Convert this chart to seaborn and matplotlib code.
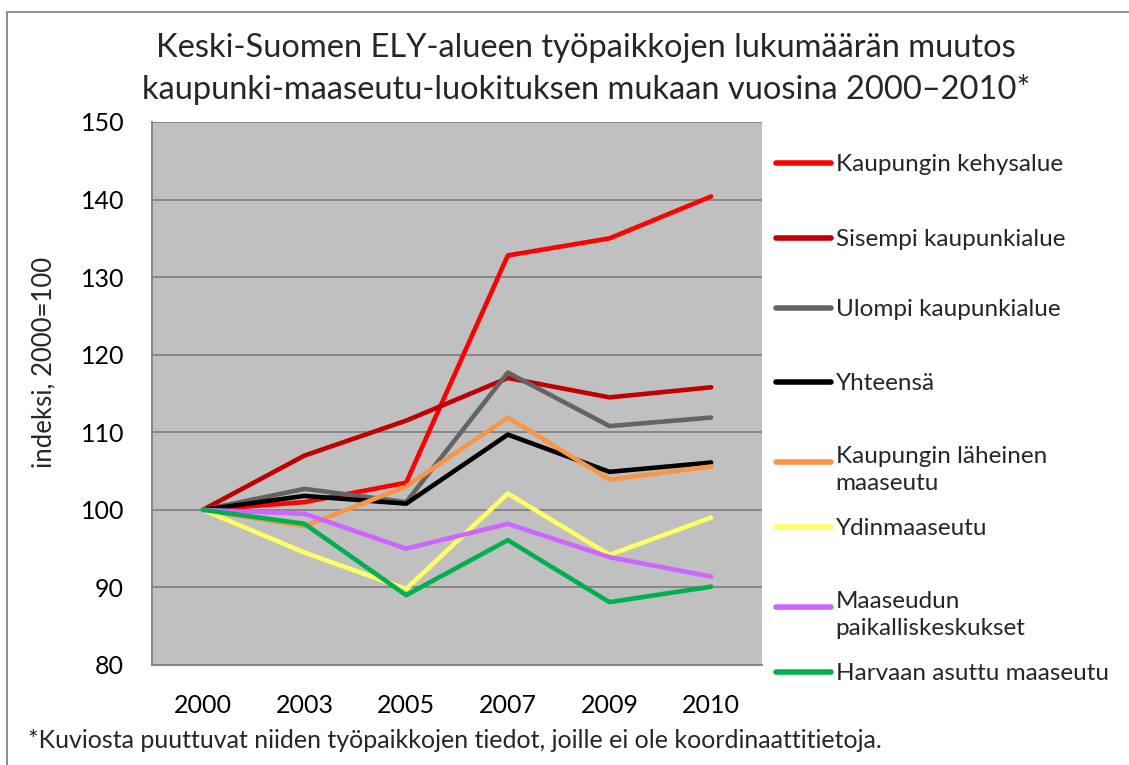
import matplotlib
matplotlib.use("Agg")
import matplotlib.pyplot as plt
import seaborn as sns
import pandas as pd
from matplotlib.legend_handler import HandlerLine2D
from matplotlib.patches import Rectangle

years = ["2000", "2003", "2005", "2007", "2009", "2010"]
series_names = [
    "Kaupungin kehysalue",
    "Sisempi kaupunkialue",
    "Ulompi kaupunkialue",
    "Yhteensä",
    "Kaupungin läheinen\nmaaseutu",
    "Ydinmaaseutu",
    "Maaseudun\npaikalliskeskukset",
    "Harvaan asuttu maaseutu",
]
kehysalue = [100, 101.0, 103.5, 132.8, 135.0, 140.4]
sisempi = [100, 107.0, 111.5, 117.0, 114.5, 115.8]
ulompi = [100, 102.7, 101.0, 117.7, 110.8, 111.9]
yhteensa = [100, 101.8, 100.8, 109.7, 104.9, 106.1]
laheinen = [100, 97.9, 103.0, 111.9, 103.9, 105.6]
ydin = [100, 94.5, 89.8, 102.1, 94.2, 99.0]
paikallis = [100, 99.5, 95.0, 98.2, 93.9, 91.4]
harvaan = [100, 98.2, 89.0, 96.1, 88.1, 90.1]
values = [kehysalue, sisempi, ulompi, yhteensa, laheinen, ydin, paikallis, harvaan]
colors = ["#FF0000", "#C00000", "#646464", "#000000", "#F79646", "#FFFF66", "#CC66FF", "#00B050"]

rows = []
for name, vals in zip(series_names, values):
    for i, (y, v) in enumerate(zip(years, vals)):
        rows.append({"pos": i, "year": y, "series": name, "value": v})
df = pd.DataFrame(rows)

sns.set_theme(style="white")
FONT = ["Lato", "DejaVu Sans"]
plt.rcParams["font.family"] = FONT

W, H = 1129, 765
fig = plt.figure(figsize=(W / 100, H / 100), dpi=100)
ax = fig.add_axes([152 / W, 1 - 665 / H, (762 - 152) / W, (665 - 122) / H])
ax.set_facecolor("#C0C0C0")

sns.lineplot(data=df, x="pos", y="value", hue="series", hue_order=series_names,
             palette=colors, linewidth=3.3, ax=ax, legend=False, sort=False,
             solid_capstyle="round")

ax.set_xlim(-0.5, 5.5)
ax.set_ylim(80, 150)
ax.set_yticks(range(80, 151, 10))
ax.set_xticks(range(len(years)))
ax.set_xticklabels(years)
ax.set_xticks([i - 0.5 for i in range(len(years) + 1)], minor=True)
ax.tick_params(axis="x", which="major", length=0, pad=21, labelsize=18, colors="black")
ax.tick_params(axis="x", which="minor", length=8, width=1.2, color="#868686", direction="out")
ax.tick_params(axis="y", which="major", length=7, width=1.2, color="#868686", direction="out",
               labelsize=18, pad=13, labelcolor="black")
ax.yaxis.grid(True, color="#868686", linewidth=1.4)
ax.set_axisbelow(True)
for s in ["top", "right"]:
    ax.spines[s].set_visible(False)
for s in ["left", "bottom"]:
    ax.spines[s].set_color("#868686")
    ax.spines[s].set_linewidth(1.4)
ax.set_xlabel("")
ax.set_ylabel("")
fig.text(44 / W, 1 - 362 / H, "indeksi, 2000=100", rotation=90, ha="center", va="center",
         fontsize=18.5)

fig.text(586 / W, 1 - 69 / H, "Keski-Suomen ELY-alueen työpaikkojen lukumäärän muutos\n"
         "kaupunki-maaseutu-luokituksen mukaan vuosina 2000–2010*",
         ha="center", va="center", fontsize=23.5, linespacing=1.42)
fig.text(28 / W, 1 - 740 / H,
         "*Kuviosta puuttuvat niiden työpaikkojen tiedot, joille ei ole koordinaattitietoja.",
         ha="left", va="center", fontsize=18)


class FirstLineHandler(HandlerLine2D):
    def __init__(self, shift=0.0, **kw):
        super().__init__(**kw)
        self.shift = shift

    def create_artists(self, legend, orig_handle, xdescent, ydescent, width, height, fontsize, trans):
        return super().create_artists(legend, orig_handle, xdescent, ydescent - self.shift,
                                      width, height, fontsize, trans)


LEG_FS = 17.5
LINE_PX = 32
handle_y = [163, 238, 308, 382, 455, 527, 600, 672]
handles = ax.get_lines()[:len(series_names)]
for h, name, yy in zip(handles, series_names, handle_y):
    hmap = {}
    if "\n" in name:
        hmap[h] = FirstLineHandler(shift=0.5 * LINE_PX * 0.72)
    leg = fig.legend([h], [name], loc="upper left",
                     bbox_to_anchor=(776 / W, 1 - (yy - 9) / H), frameon=False,
                     fontsize=LEG_FS, handlelength=2.25, handletextpad=0.2,
                     borderpad=0, borderaxespad=0, handler_map=hmap)
    for l in leg.get_lines():
        l.set_linewidth(4)
    for t in leg.get_texts():
        t.set_linespacing(1.38)

fig.patches.append(Rectangle((7 / W, -0.05), 1.2, 1 - 12 / H + 0.05, transform=fig.transFigure,
                             fill=False, edgecolor="#868686", linewidth=1.3, zorder=0))

fig.savefig("out.png", dpi=100, facecolor="white")
